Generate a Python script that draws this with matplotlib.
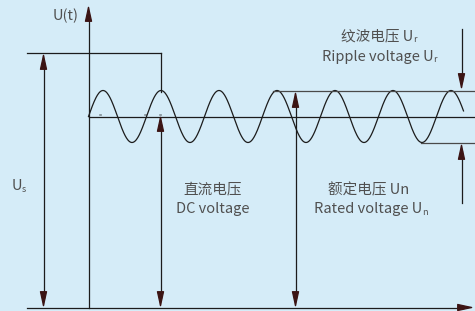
import numpy as np
import matplotlib
matplotlib.use("Agg")
import matplotlib.pyplot as plt

plt.rcParams['font.family'] = ['Noto Sans CJK SC', 'DejaVu Sans']

# schematic levels (pixel units of the drawing, y grows downward)
SURGE_LEVEL = 52        # peak surge voltage Us
DC_LEVEL = 116          # DC voltage
RIPPLE_AMP = 26         # half peak-to-peak ripple
PERIOD = 58             # ripple period
WAVE_START, WAVE_END = 88, 463
SPIKE_X = 160
AXIS_X, AXIS_Y = 88, 307

# labels: (line1, sub1, line2, sub2, centre x, y1, y2)
LABELS = [
    ("纹波电压 U", "r", "Ripple voltage U", "r", 377, 36, 56),
    ("直流电压", "", "DC voltage", "", 212, 189, 208),
    ("额定电压 Un", "", "Rated voltage U", "n", 368, 190, 209),
]

BG = "#d5ecf8"
INK = "#1c1c1c"
HEAD = "#3b1414"
TXT = "#505050"

fig = plt.figure(figsize=(4.75, 3.11), dpi=100, facecolor=BG)
ax = fig.add_axes([0, 0, 1, 1])
ax.set_facecolor(BG)
ax.set_xlim(-0.5, 474.5)
ax.set_ylim(310.5, -0.5)
ax.axis("off")

lw = 0.9

# ripple wave
x = np.linspace(WAVE_START, WAVE_END, 800)
y = DC_LEVEL - RIPPLE_AMP * np.sin(2 * np.pi * (x - WAVE_START) / PERIOD)
ax.plot(x, y, color=INK, lw=lw)

# reference lines
ax.plot([26, SPIKE_X], [SURGE_LEVEL, SURGE_LEVEL], color=INK, lw=lw)
ax.plot([SPIKE_X, SPIKE_X], [SURGE_LEVEL, DC_LEVEL - RIPPLE_AMP + 1], color=INK, lw=lw)
ax.plot([AXIS_X, 475], [DC_LEVEL, DC_LEVEL], color=INK, lw=lw)
ax.plot([272, 475], [DC_LEVEL - RIPPLE_AMP] * 2, color="#4a4a4a", lw=lw)
ax.plot([420, 475], [DC_LEVEL + RIPPLE_AMP] * 2, color="#4a4a4a", lw=lw)


def arrow(x0, y0, x1, y1, style="-|>"):
    ax.annotate("", xy=(x1, y1), xytext=(x0, y0),
                arrowprops=dict(arrowstyle=f"{style},head_length=1.0,head_width=0.22",
                                mutation_scale=10, lw=lw,
                                shrinkA=0, shrinkB=0, fc=HEAD, ec=HEAD))


# axes
ax.plot([AXIS_X, AXIS_X], [AXIS_Y, 18], color=INK, lw=lw)
ax.plot([26, 462], [AXIS_Y, AXIS_Y], color=INK, lw=lw)
arrow(AXIS_X, 20, AXIS_X, 4)
arrow(462, AXIS_Y, 474, AXIS_Y)

# dimension arrows
for xa, ytop in [(43, SURGE_LEVEL), (SPIKE_X, DC_LEVEL - 2), (295, DC_LEVEL - RIPPLE_AMP)]:
    ax.plot([xa, xa], [ytop + 10, AXIS_Y - 10], color=INK, lw=lw)
    arrow(xa, ytop + 14, xa, ytop)
    arrow(xa, AXIS_Y - 14, xa, AXIS_Y + 1)

ax.plot([461, 461], [28, 80], color=INK, lw=lw)
arrow(461, 74, 461, DC_LEVEL - RIPPLE_AMP)
ax.plot([461, 461], [150, 202], color=INK, lw=lw)
arrow(461, DC_LEVEL + RIPPLE_AMP + 14, 461, DC_LEVEL + RIPPLE_AMP)

# tiny tick marks left on the original drawing
for mx in (100, 145, 160):
    ax.text(mx, 114, "=", ha="center", va="center", fontsize=4, color=INK)

fs = 10.5
ax.text(65, 15, "U(t)", ha="center", va="center", fontsize=fs, color=TXT)
ax.text(22, 186, "U", ha="right", va="center", fontsize=fs, color=TXT)
ax.text(21.5, 189, "s", ha="left", va="center", fontsize=6.5, color=TXT)

fig.canvas.draw()
for l1, s1, l2, s2, cx, y1, y2 in LABELS:
    for txt, sub, yy in [(l1, s1, y1), (l2, s2, y2)]:
        t = ax.text(cx, yy, txt, ha="center", va="center", fontsize=fs, color=TXT)
        if sub:
            bb = t.get_window_extent(renderer=fig.canvas.get_renderer())
            bb = bb.transformed(ax.transData.inverted())
            ax.text(bb.x1 - 0.5, yy + 3, sub, ha="left", va="center", fontsize=6.5, color=TXT)

fig.savefig("out.png", dpi=100, facecolor=BG)
